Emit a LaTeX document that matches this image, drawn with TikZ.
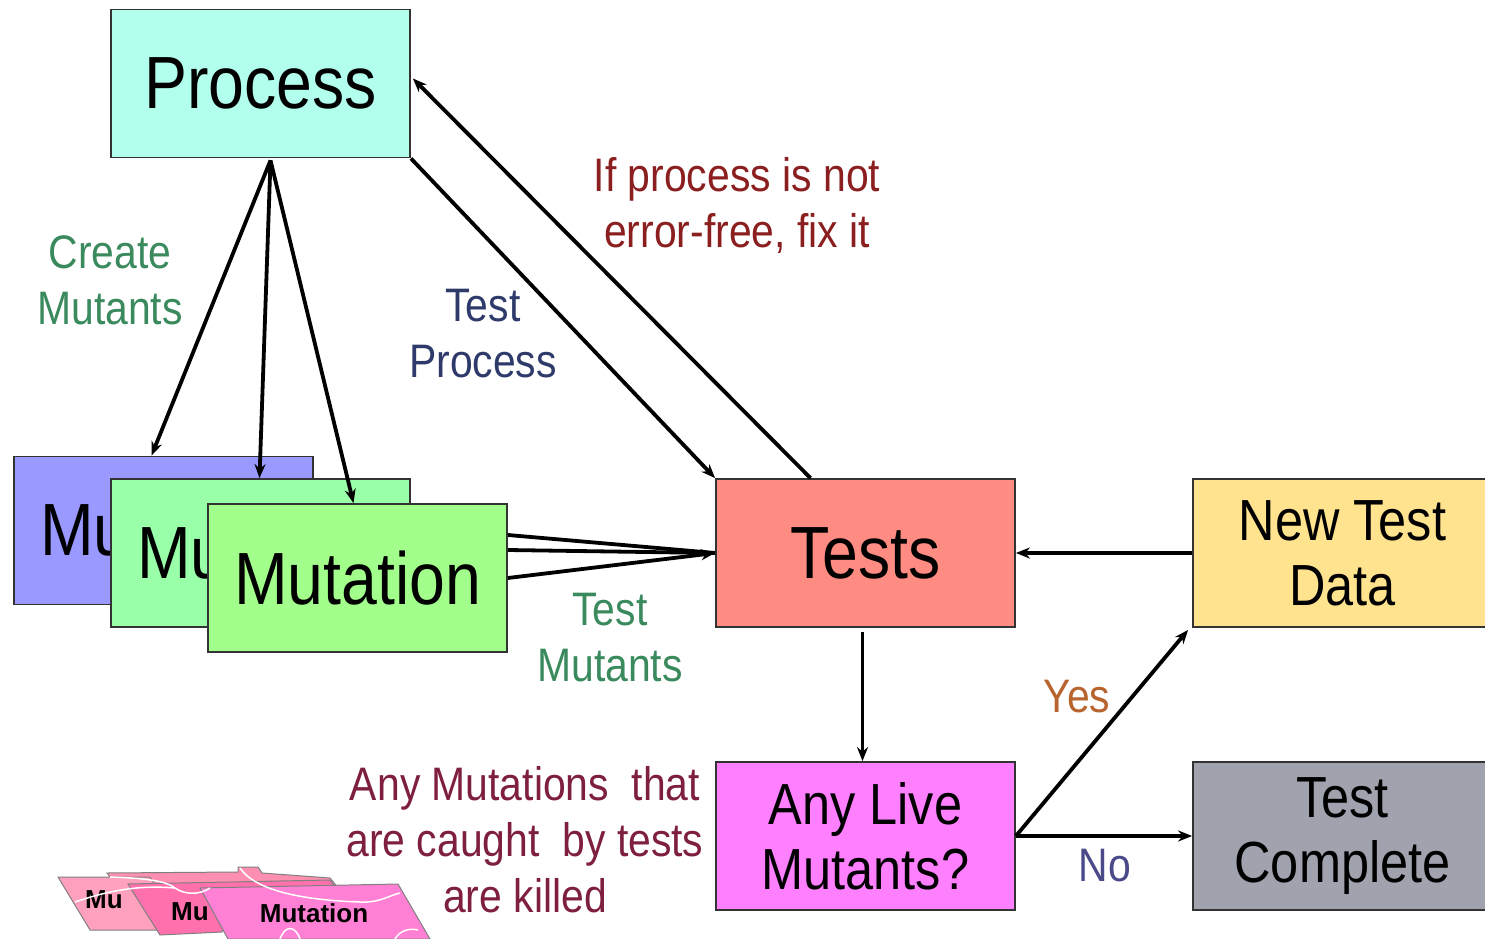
\documentclass[tikz,border=0pt]{standalone}
\usepackage{fontspec}
\usepackage{graphicx}
\setmainfont{Liberation Sans}
\usetikzlibrary{arrows.meta,calc}
\newcommand{\nar}[1]{\scalebox{0.87}[1]{#1}}
\definecolor{cproc}{HTML}{B3FFEE}
\definecolor{cmuta}{HTML}{9999FF}
\definecolor{cmutb}{HTML}{99FFA8}
\definecolor{cmutc}{HTML}{A3FF8C}
\definecolor{ctests}{HTML}{FF8C82}
\definecolor{cnew}{HTML}{FFE38F}
\definecolor{clive}{HTML}{FF80FF}
\definecolor{ccomp}{HTML}{A0A2AE}
\definecolor{lgreen}{HTML}{3A8A5E}
\definecolor{lblue}{HTML}{2E3A6A}
\definecolor{lred}{HTML}{8B1E1E}
\definecolor{lmaroon}{HTML}{7F1F3F}
\definecolor{lorange}{HTML}{B8642E}
\definecolor{lno}{HTML}{4A4A8A}
\definecolor{pinka}{HTML}{FFA0BC}
\definecolor{pinkb}{HTML}{FF70AC}
\definecolor{pinkc}{HTML}{FF80D4}
\definecolor{pinkd}{HTML}{FF8FB0}
\begin{document}
\begin{tikzpicture}[x=1pt,y=-1pt,
  box/.style={draw=black!80,line width=1.8pt,minimum width=299pt,minimum height=148pt,inner sep=0pt,align=center},
  bigtxt/.style={font=\fontsize{74}{80}\selectfont},
  midtxt/.style={font=\fontsize{58}{65}\selectfont},
  lbl/.style={font=\fontsize{47}{56}\selectfont,align=center,inner sep=0pt},
  conn/.style={line width=3.8pt,-{Stealth[length=14pt,width=11pt]}},
  plain/.style={line width=3.8pt},
  shard/.style={draw=black!50,line width=1pt},
  crack/.style={draw=white,line width=1.5pt},
  kt/.style={font=\bfseries\fontsize{26}{26}\selectfont,inner sep=0pt}]
\useasboundingbox (0,0) rectangle (1485,939);
% boxes
\node[box,fill=cproc,bigtxt] (proc) at (260.5,83.5) {\nar{Process}};
\node[box,fill=cmuta] (muta) at (163.5,530.5) {};
\node[bigtxt,anchor=west,inner sep=0pt] (mutatxt) at (40,530.5) {\nar{Mu}};
\node[box,fill=cmutb] (mutb) at (260.5,553) {};
\node[bigtxt,anchor=west,inner sep=0pt] (mutbtxt) at (137,553) {\nar{Mu}};
\node[box,bigtxt,fill=cmutc] (mutc) at (357.5,578) {\nar{Mutation}};
\node[box,bigtxt,fill=ctests] (tests) at (865.5,553) {\nar{Tests}};
\node[box,midtxt,fill=cnew] (newd) at (1342.5,553) {\nar{New Test}\\\nar{Data}};
\node[box,midtxt,fill=clive] (live) at (865.5,836) {\nar{Any Live}\\\nar{Mutants?}};
\node[box,midtxt,fill=ccomp] (comp) at (1342.5,836) {\nar{Test}\\\nar{Complete}};
% connectors
\coordinate (apex) at ($(proc.south)+(10,2)$);
\draw[conn] (apex) -- ($(muta.north)+(-12,0)$);
\draw[conn] (apex) -- ($(mutb.north)+(-1,0)$);
\draw[conn] (apex) -- ($(mutc.north)+(-4,0)$);
\draw[conn] (proc.south east) -- (tests.north west);
\draw[conn] ($(tests.north)+(-55,0)$) -- ($(proc.east)+(2,-5)$);
\draw[plain] ($(mutc.east)+(0,-43)$) -- (tests.west);
\draw[plain] ($(mutc.east)+(0,-28)$) -- (tests.west);
\draw[conn] (mutc.east) -- (tests.west);
\draw[conn] (newd.west) -- (tests.east);
\draw[conn] ($(tests.south)+(-3,4)$) -- ($(live.north)+(-3,0)$);
\draw[conn] (live.east) -- ($(newd.south west)+(-4,2)$);
\draw[conn] (live.east) -- (comp.west);
% labels
\node[lbl,text=lgreen] (lcreate) at (110,280) {\nar{Create}\\\nar{Mutants}};
\node[lbl,text=lblue] (ltproc) at (483,334) {\nar{Test}\\\nar{Process}};
\node[lbl,text=lred] (lfix) at (737,205) {\nar{If process is not}\\\nar{error-free, fix it}};
\node[lbl,text=lgreen] (ltmut) at (610,638) {\nar{Test}\\\nar{Mutants}};
\node[lbl,text=lorange] (lyes) at (1077,697) {\nar{Yes}};
\node[lbl,text=lno] (lno) at (1105,866) {\nar{No}};
\node[lbl,text=lmaroon] (lkill) at (525,840) {\nar{Any Mutations\ \ that}\\\nar{are caught\ \ by tests}\\\nar{are killed}};
% killed mutants (squashed)
\fill[pinkd,shard] (107,873) -- (238,872) -- (238,867) -- (258,867) -- (262,873) -- (330,878) -- (340,890) -- (120,890) -- cycle;
\fill[pinka,shard] (58,877) -- (150,877) -- (182,930) -- (90,930) -- cycle;
\fill[pinkb,shard] (128,884) -- (330,880) -- (345,900) -- (230,900) -- (222,932) -- (160,935) -- cycle;
\fill[pinkc,shard] (200,888) -- (398,884) -- (430,939) -- (228,939) -- cycle;
\node[kt] (ka) at (104,900) {Mu};
\node[kt] (kb) at (190,912) {Mu};
\node[kt] (kc) at (314,913) {Mutation};
\draw[crack] (75,902) .. controls (110,890) and (140,885) .. (175,888);
\draw[crack] (240,868) .. controls (255,890) and (300,900) .. (360,902) .. controls (380,903) and (390,895) .. (400,893);
\draw[crack] (280,939) .. controls (285,925) and (295,925) .. (300,939);
\draw[crack] (395,939) .. controls (400,930) and (410,928) .. (418,930);
\draw[crack] (110,877) .. controls (140,878) and (165,880) .. (175,888) .. controls (185,895) and (200,895) .. (210,888);
\end{tikzpicture}
\end{document}
